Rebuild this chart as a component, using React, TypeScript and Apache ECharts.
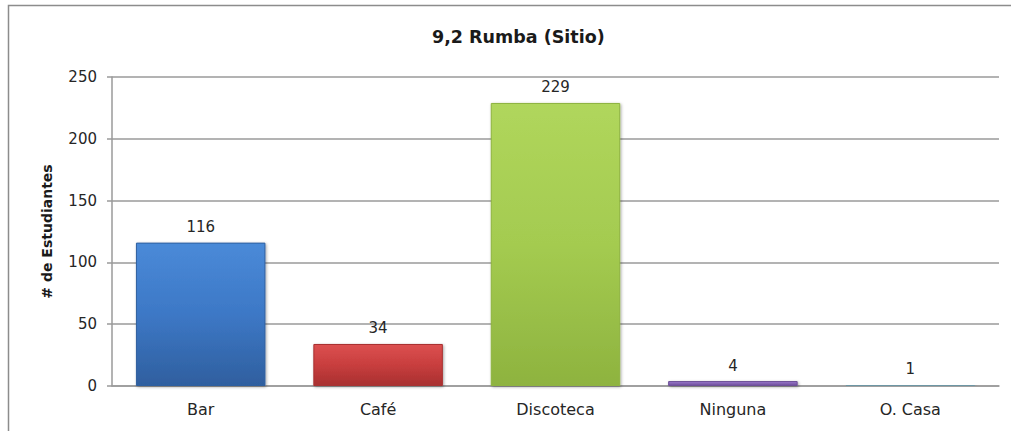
import React, { useEffect, useRef } from "react";
import * as echarts from "echarts";

const categories = ["Bar", "Café", "Discoteca", "Ninguna", "O. Casa"];
const values = [116, 34, 229, 4, 1];
const barColors = [
  ["#4a8ad8", "#3d78c6", "#2f5f9f"],
  ["#dc5050", "#c83e3e", "#a83030"],
  ["#b0d65c", "#a4cb50", "#8eb33f"],
  ["#9a78cc", "#8463b3", "#6d4f98"],
  ["#9fc3cf", "#86aebb", "#6e97a4"],
];
const yTicks = { min: 0, max: 250, interval: 50 };
const titleText = "9,2 Rumba (Sitio)";
const yName = "# de Estudiantes";

const FONT = "'DejaVu Sans', sans-serif";

export default function App() {
  const ref = useRef<HTMLDivElement>(null);
  useEffect(() => {
    if (!ref.current) return;
    const chart = echarts.init(ref.current, undefined, { renderer: "svg" });
    chart.setOption({
      animation: false,
      backgroundColor: "#ffffff",
      title: {
        text: titleText,
        left: 427,
        top: 23,
        textStyle: { fontFamily: FONT, fontWeight: "bold", fontSize: 17.5, color: "#1a1a1a" },
      },
      graphic: [
        {
          type: "rect",
          shape: { x: 8.5, y: 5.5, width: 1020, height: 440 },
          style: { fill: "none", stroke: "#8c8c8c", lineWidth: 1.5 },
          silent: true,
          z: 0,
        },
      ],
      grid: { left: 112, right: 12, top: 77, bottom: 45, containLabel: false },
      xAxis: {
        type: "category",
        data: categories,
        axisLine: { show: true, lineStyle: { color: "#9a9a9a", width: 1.5 } },
        axisTick: { show: false },
        axisLabel: { color: "#262626", fontFamily: FONT, fontSize: 16, margin: 15 },
      },
      yAxis: {
        type: "value",
        min: yTicks.min,
        max: yTicks.max,
        interval: yTicks.interval,
        name: yName,
        nameLocation: "middle",
        nameGap: 58,
        nameRotate: 90,
        nameTextStyle: { fontFamily: FONT, fontWeight: "bold", fontSize: 14, color: "#1a1a1a" },
        axisLine: { show: true, lineStyle: { color: "#9a9a9a", width: 1.5 } },
        axisTick: { show: true, length: 5, lineStyle: { color: "#9a9a9a", width: 1.5 } },
        axisLabel: { color: "#262626", fontFamily: FONT, fontSize: 15, margin: 15 },
        splitLine: { show: true, lineStyle: { color: "#9a9a9a", width: 1.5 } },
      },
      series: [
        {
          type: "bar",
          barWidth: "73%",
          data: values.map((v, i) => ({
            value: v,
            itemStyle: {
              color: {
                type: "linear",
                x: 0,
                y: 0,
                x2: 0,
                y2: 1,
                colorStops: [
                  { offset: 0, color: barColors[i][0] },
                  { offset: 0.5, color: barColors[i][1] },
                  { offset: 1, color: barColors[i][2] },
                ],
              },
              borderColor: barColors[i][2],
              borderWidth: 1,
              shadowColor: "rgba(0,0,0,0.35)",
              shadowBlur: 3,
              shadowOffsetX: 1,
              shadowOffsetY: 1,
            },
          })),
          label: {
            show: true,
            position: "top",
            distance: 8,
            color: "#262626",
            fontFamily: FONT,
            fontSize: 15,
          },
        },
      ],
    });
    return () => chart.dispose();
  }, []);
  return (
    <div
      ref={ref}
      style={{ position: "fixed", left: 0, top: 0, width: 1011, height: 431 }}
    />
  );
}
